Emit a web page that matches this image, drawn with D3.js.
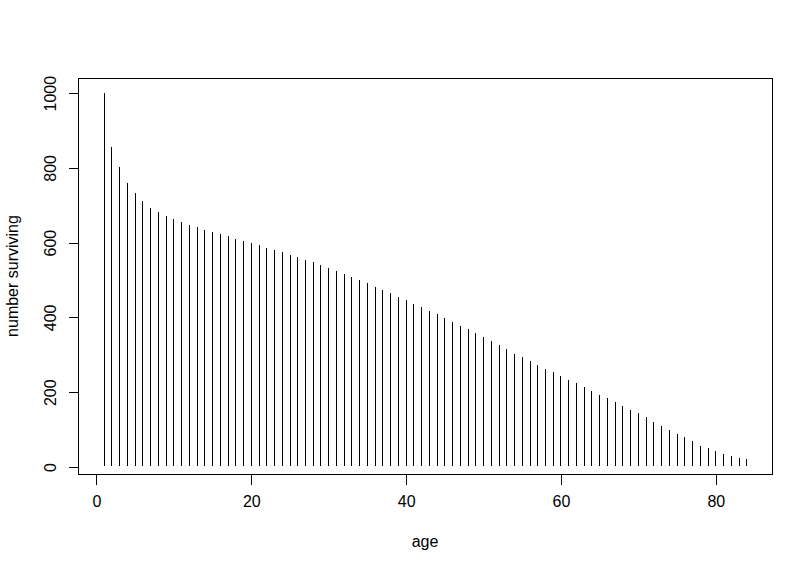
<!DOCTYPE html>
<html>
<head>
<meta charset="utf-8">
<script src="https://cdn.jsdelivr.net/npm/d3@7"></script>
<style>
  html, body { margin: 0; padding: 0; background: #fff; }
  text { font-family: "Liberation Sans", Arial, sans-serif; fill: #000; }
</style>
</head>
<body>
<div id="chart"></div>
<script>
// survivors per age (type = "h" plot)
const ages = d3.range(1, 85)
const surviving = [
  1000, 855, 800, 758, 732, 710, 692, 681, 671, 663,
  655, 647, 641, 633, 628, 622, 617, 609, 604, 598,
  593, 585, 580, 574, 566, 561, 553, 547, 539, 531,
  523, 515, 507, 499, 491, 480, 472, 464, 453, 445,
  435, 427, 417, 408, 397, 386, 376, 368, 357, 346,
  335, 325, 314, 301, 293, 282, 271, 260, 252, 242,
  231, 223, 212, 201, 191, 182, 172, 161, 150, 142,
  132, 118, 107, 97, 86, 78, 67, 56, 48, 40,
  32, 27, 22, 19
]
const xTicks = [0, 20, 40, 60, 80]
const yTicks = [0, 200, 400, 600, 800, 1000]
const xLabel = "age"
const yLabel = "number surviving"

const width = 812
const height = 572
const marginTop = 78
const marginRight = 40
const marginBottom = 98
const marginLeft = 78
const fontSize = 16

// R style 4% range extension
const pad = (lo, hi) => [lo - (hi - lo) * 0.04, hi + (hi - lo) * 0.04]
const xScale = d3.scaleLinear(pad(d3.min(ages), d3.max(ages)), [marginLeft, width - marginRight])
const yScale = d3.scaleLinear(pad(d3.min(surviving), d3.max(surviving)), [height - marginBottom, marginTop])

const svg = d3.select("#chart")
  .append("svg")
  .attr("width", width)
  .attr("height", height)
  .attr("viewBox", [0, 0, width, height])

// 数据
svg.append("g")
  .attr("stroke", "#000")
  .attr("stroke-width", 1)
  .attr("shape-rendering", "crispEdges")
  .selectAll("line")
  .data(ages)
  .join("line")
  .attr("x1", d => Math.round(xScale(d)) + 0.5)
  .attr("x2", d => Math.round(xScale(d)) + 0.5)
  .attr("y1", d => yScale(0))
  .attr("y2", (d, i) => yScale(surviving[i]))

// box
svg.append("rect")
  .attr("x", marginLeft + 0.5)
  .attr("y", marginTop + 0.5)
  .attr("width", width - marginLeft - marginRight)
  .attr("height", height - marginTop - marginBottom)
  .attr("fill", "none")
  .attr("stroke", "#000")
  .attr("shape-rendering", "crispEdges")

// X轴
svg.append("g")
  .attr("transform", `translate(0.5,${height - marginBottom + 0.5})`)
  .call(d3.axisBottom(xScale).tickValues(xTicks).tickFormat(d3.format("d"))
    .tickSize(10).tickSizeOuter(0).tickPadding(11))
  .call(g => g.select(".domain").remove())
  .call(g => g.selectAll(".tick line").attr("shape-rendering", "crispEdges"))
  .call(g => g.selectAll(".tick text")
    .attr("font-size", fontSize)
    .attr("font-family", "Liberation Sans, Arial, sans-serif"))

// Y轴 (rotated labels)
const yAxis = svg.append("g")
  .attr("transform", `translate(${marginLeft + 0.5},0.5)`)
  .call(d3.axisLeft(yScale).tickValues(yTicks).tickFormat(d3.format("d"))
    .tickSize(10).tickSizeOuter(0))
  .call(g => g.select(".domain").remove())
  .call(g => g.selectAll(".tick line").attr("shape-rendering", "crispEdges"))
yAxis.selectAll(".tick text")
  .attr("font-size", fontSize)
  .attr("font-family", "Liberation Sans, Arial, sans-serif")
  .attr("x", null)
  .attr("dy", null)
  .attr("text-anchor", "middle")
  .attr("transform", "translate(-23,0) rotate(-90)")

// axis titles
svg.append("text")
  .attr("x", (marginLeft + width - marginRight) / 2)
  .attr("y", 547)
  .attr("text-anchor", "middle")
  .attr("font-size", fontSize)
  .text(xLabel)

svg.append("text")
  .attr("transform", `translate(18,${(marginTop + height - marginBottom) / 2}) rotate(-90)`)
  .attr("text-anchor", "middle")
  .attr("font-size", fontSize)
  .text(yLabel)
</script>
</body>
</html>
